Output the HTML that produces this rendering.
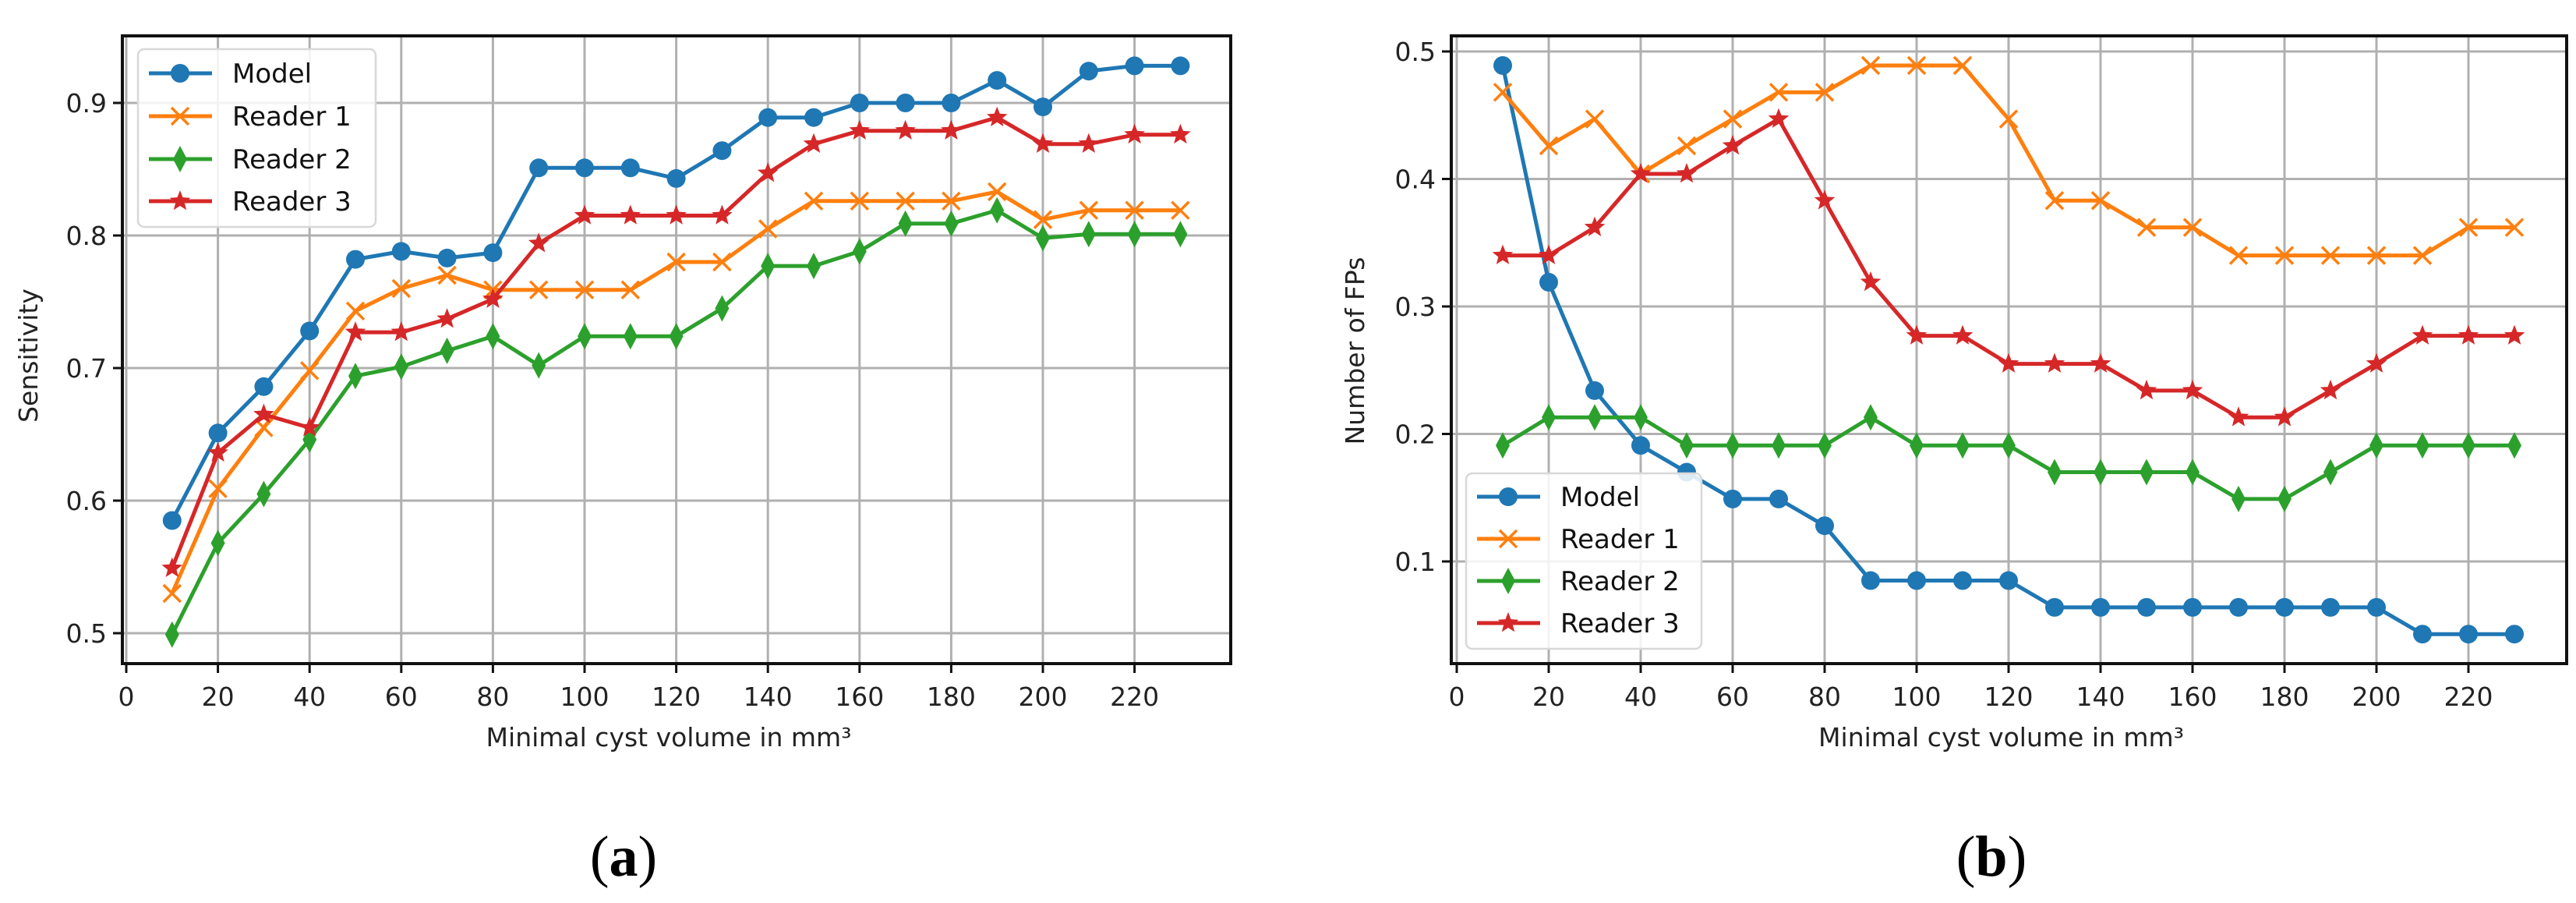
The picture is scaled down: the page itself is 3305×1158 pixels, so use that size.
<!DOCTYPE html>
<html><head><meta charset="utf-8"><style>
html,body{margin:0;padding:0;background:#fff;}
svg{display:block;font-family:"DejaVu Sans","Liberation Sans",sans-serif;}
</style></head><body>
<svg id="fig" width="3305" height="1158" viewBox="0 0 3305 1158" xmlns="http://www.w3.org/2000/svg"></svg>
<script>
const xVals = [10,20,30,40,50,60,70,80,90,100,110,120,130,140,150,160,170,180,190,200,210,220,230];
const xTicks = [0,20,40,60,80,100,120,140,160,180,200,220];
const seriesNames = ["Model","Reader 1","Reader 2","Reader 3"];
const sensModel = [.585,.651,.686,.728,.782,.788,.783,.787,.851,.851,.851,.843,.864,.889,.889,.900,.900,.900,.917,.897,.924,.928,.928];
const sensR1 = [.530,.609,.655,.698,.743,.760,.770,.759,.759,.759,.759,.780,.780,.805,.826,.826,.826,.826,.833,.812,.819,.819,.819];
const sensR2 = [.499,.568,.605,.646,.694,.701,.713,.724,.702,.724,.724,.724,.745,.777,.777,.788,.809,.809,.819,.798,.801,.801,.801];
const sensR3 = [.549,.636,.665,.655,.727,.727,.737,.752,.794,.815,.815,.815,.815,.847,.869,.879,.879,.879,.889,.869,.869,.876,.876];
const sensTicks = [0.5,0.6,0.7,0.8,0.9];
const fpModel = [.489,.319,.234,.191,.170,.149,.149,.128,.085,.085,.085,.085,.064,.064,.064,.064,.064,.064,.064,.064,.043,.043,.043];
const fpR1 = [.468,.426,.447,.404,.426,.447,.468,.468,.489,.489,.489,.447,.383,.383,.362,.362,.340,.340,.340,.340,.340,.362,.362];
const fpR2 = [.191,.213,.213,.213,.191,.191,.191,.191,.213,.191,.191,.191,.170,.170,.170,.170,.149,.149,.170,.191,.191,.191,.191];
const fpR3 = [.340,.340,.362,.404,.404,.426,.447,.383,.319,.277,.277,.255,.255,.255,.234,.234,.213,.213,.234,.255,.277,.277,.277];
const fpTicks = [0.1,0.2,0.3,0.4,0.5];

const NS="http://www.w3.org/2000/svg";
const svg=document.getElementById('fig');
const colors=["#1f77b4","#ff7f0e","#2ca02c","#d62728"];
const markers=["o","x","d","*"];
function mk(tag,attrs,parent){const e=document.createElementNS(NS,tag);for(const k in attrs)e.setAttribute(k,attrs[k]);(parent||svg).appendChild(e);return e;}

function marker(g,type,x,y,c){
  let e;
  if(type==="o"){e=mk('circle',{cx:x,cy:y,r:12,fill:c},g);}
  else if(type==="x"){e=mk('path',{d:`M${x-11} ${y-11}L${x+11} ${y+11}M${x-11} ${y+11}L${x+11} ${y-11}`,stroke:c,'stroke-width':3.5,fill:'none'},g);}
  else if(type==="d"){e=mk('path',{d:`M${x} ${y-17}L${x+9} ${y}L${x} ${y+17}L${x-9} ${y}Z`,fill:c},g);}
  else {let p='';for(let i=0;i<10;i++){const r=i%2?6:14;const a=-Math.PI/2+i*Math.PI/5;p+=(i?'L':'M')+(x+r*Math.cos(a)).toFixed(1)+' '+(y+r*Math.sin(a)).toFixed(1);}e=mk('path',{d:p+'Z',fill:c},g);}
  
  
}

function panel(cfg){
  const g=mk('g',{});
  
  
  const X=v=>cfg.x0+v*cfg.ux, Y=v=>cfg.yRef-(v-cfg.vRef)*cfg.uy;
  // grid
  xTicks.forEach(t=>{const l=mk('line',{x1:X(t),x2:X(t),y1:cfg.top,y2:cfg.bottom,stroke:'#b0b0b0','stroke-width':3},g);});
  cfg.yTicks.forEach(t=>{const l=mk('line',{x1:cfg.left,x2:cfg.right,y1:Y(t),y2:Y(t),stroke:'#b0b0b0','stroke-width':3},g);});
  // series
  cfg.series.forEach((s,i)=>{
    const sg=mk('g',{},g);
    
    
    mk('polyline',{points:xVals.map((x,j)=>X(x)+','+Y(s[j])).join(' '),fill:'none',stroke:colors[i],'stroke-width':5,'stroke-linejoin':'round'},sg);
    xVals.forEach((x,j)=>marker(sg,markers[i],X(x),Y(s[j]),colors[i]));
  });
  // spines
  const sp=mk('rect',{x:cfg.left,y:cfg.top,width:cfg.right-cfg.left,height:cfg.bottom-cfg.top,fill:'none',stroke:'#111','stroke-width':4},g);
  
  // ticks
  xTicks.forEach(t=>{mk('line',{x1:X(t),x2:X(t),y1:cfg.bottom,y2:cfg.bottom+12,stroke:'#111','stroke-width':3},g);
    const tx=mk('text',{x:X(t),y:cfg.bottom+54,'font-size':33,'text-anchor':'middle',fill:'#222'},g);tx.textContent=t;
    });
  cfg.yTicks.forEach(t=>{mk('line',{x1:cfg.left-12,x2:cfg.left,y1:Y(t),y2:Y(t),stroke:'#111','stroke-width':3},g);
    const tx=mk('text',{x:cfg.left-20,y:Y(t)+12,'font-size':33,'text-anchor':'end',fill:'#222'},g);tx.textContent=t.toFixed(1);
    });
  const xt=mk('text',{x:(cfg.left+cfg.right)/2-10,y:957,'font-size':33,'text-anchor':'middle',fill:'#222'},g);
  xt.textContent='Minimal cyst volume in mm³';
  
  const yt=mk('text',{x:0,y:0,'font-size':33,'text-anchor':'middle',fill:'#222',transform:`translate(${cfg.ytX},${cfg.ytY}) rotate(-90)`},g);
  yt.textContent=cfg.ytitle;
  
  // legend
  const L=cfg.legend;
  const lg=mk('g',{},g);
  
  mk('rect',{x:L.x,y:L.y,width:L.w,height:L.h,rx:8,fill:'#fff','fill-opacity':0.85,stroke:'#d8d8d8','stroke-width':2.5},lg);
  seriesNames.forEach((n,i)=>{
    const yy=L.rows[i];
    const eg=mk('g',{},lg);
    
    mk('line',{x1:L.x+14,x2:L.x+95,y1:yy,y2:yy,stroke:colors[i],'stroke-width':5},eg);
    marker(eg,markers[i],L.x+54,yy,colors[i]);
    const t=mk('text',{x:L.x+121,y:yy+12,'font-size':34,fill:'#111'},eg);t.textContent=n;
  });
  const cap=mk('text',{x:cfg.capX,y:1123,'font-size':74,'text-anchor':'middle','font-family':'"Liberation Serif",serif',fill:'#000'});
  cap.innerHTML='(<tspan font-weight="bold">'+cfg.cap+'</tspan>)';
  
}

panel({name:'sensitivity-chart',left:157,right:1579,top:46,bottom:851,x0:162,ux:5.88,yRef:132,vRef:0.9,uy:1700,
  yTicks:sensTicks,series:[sensModel,sensR1,sensR2,sensR3],ytitle:'Sensitivity',ytX:48,ytY:456,
  legend:{x:177,y:63,w:305,h:228,rows:[94,149,204,258]},capX:800,cap:'a'});
panel({name:'false-positives-chart',left:1862,right:3293,top:46,bottom:851,x0:1869,ux:5.9,yRef:66,vRef:0.5,uy:1635,
  yTicks:fpTicks,series:[fpModel,fpR1,fpR2,fpR3],ytitle:'Number of FPs',ytX:1750,ytY:450,
  legend:{x:1881,y:607,w:302,h:225,rows:[637,691,745,799]},capX:2555,cap:'b'});
</script>
</body></html>
